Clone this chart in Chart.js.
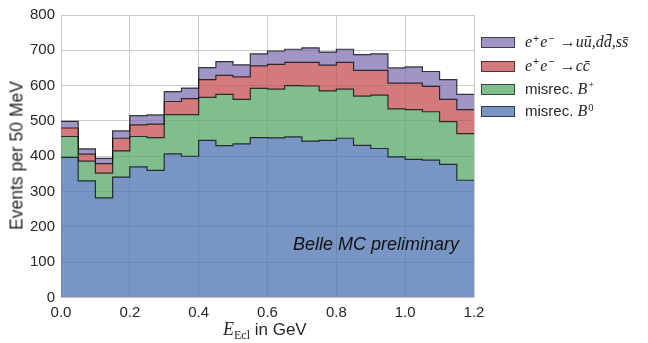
<!DOCTYPE html>
<html>
<head>
<meta charset="utf-8">
<script src="https://cdn.jsdelivr.net/npm/chart.js@4"></script>
<style>
  html, body { margin: 0; padding: 0; background: #fff; }
  #wrap { position: relative; width: 648px; height: 343px; overflow: hidden; }
  canvas { position: absolute; left: 0; top: 0; }
  .lbl { position: absolute; color: #262626; white-space: nowrap; font-family: "Liberation Sans", Arial, sans-serif; }
  .m { font-family: "Liberation Serif", "DejaVu Serif", serif; font-style: italic; }
  .r { font-family: "Liberation Serif", "DejaVu Serif", serif; font-style: normal; }
  .leg { position: absolute; left: 481px; height: 23px; white-space: nowrap; color: #262626; }
  .patch { position: absolute; left: 0; top: 6px; width: 32px; height: 9px; border: 1px solid rgba(0,0,0,0.6); }
  .ltxt { position: absolute; left: 44px; top: 0px; line-height: 21px; font-size: 15px; font-family: "Liberation Sans", Arial, sans-serif; }
  sup { font-size: 70%; vertical-align: 0; position: relative; top: -0.5em; margin-left: 1px; margin-right: 1px; }
  sub { font-size: 70%; vertical-align: 0; position: relative; top: 0.3em; }
</style>
</head>
<body>
<div id="wrap">
  <canvas id="c" width="648" height="343"></canvas>
  <div class="lbl" style="left:-71px; top:145px; width:176px; text-align:center; font-size:17.5px; transform:rotate(-90deg);">Events per 50 MeV</div>
  <div class="lbl" style="left:223px; top:319px; font-size:17px;"><span class="m" style="font-size:18px">E</span><sub class="r" style="font-size:12px">Ecl</sub> in GeV</div>
  <div class="lbl" style="left:293px; top:234px; font-size:18px; font-style:italic; color:#111;">Belle MC preliminary</div>
  <div id="legend"></div>
</div>
<script>
// Bin edges in GeV (50 MeV bins)
const binEdges = [0.00,0.05,0.10,0.15,0.20,0.25,0.30,0.35,0.40,0.45,0.50,0.55,0.60,0.65,0.70,0.75,0.80,0.85,0.90,0.95,1.00,1.05,1.10,1.15,1.20];
// Events per bin for each component (stacked bottom to top)
const misrecB0   = [397,330,282,341,370,360,407,400,445,430,435,453,452,455,443,445,451,431,422,398,391,389,377,332];
const misrecBp   = [ 59, 56, 70, 74, 86, 93,111,118,122,145,126,139,138,145,156,140,139,139,151,136,141,137,121,132];
const eeCC       = [ 24, 20, 27, 36, 33, 38, 37, 45, 50, 54, 64, 64, 70, 66, 67, 73, 76, 73, 70, 73, 75, 72, 63, 68];
const eeUDS      = [ 19, 15, 15, 21, 26, 26, 28, 30, 34, 39, 34, 34, 38, 37, 41, 37, 37, 45, 47, 43, 46, 42, 56, 43];
const yTicks = [0,100,200,300,400,500,600,700,800];
const xTicks = [0.0,0.2,0.4,0.6,0.8,1.0,1.2];

const series = [
  { label: 'misrec. B0', values: misrecB0, color: 'rgba(76,114,176,0.75)' },
  { label: 'misrec. B+', values: misrecBp, color: 'rgba(85,168,104,0.75)' },
  { label: 'ee->cc',     values: eeCC,     color: 'rgba(196,78,82,0.75)' },
  { label: 'ee->uds',    values: eeUDS,    color: 'rgba(129,114,178,0.75)' }
];

function toSteps(vals) {
  return binEdges.map((x, i) => ({ x: x, y: vals[Math.min(i, vals.length - 1)] }));
}

const datasets = series.map((s, i) => ({
  label: s.label,
  data: toSteps(s.values),
  stepped: true,
  backgroundColor: s.color,
  borderColor: 'rgba(0,0,0,0.75)',
  borderWidth: 1.2,
  pointRadius: 0,
  fill: i === 0 ? 'origin' : '-1',
  tension: 0
}));

new Chart(document.getElementById('c'), {
  type: 'line',
  data: { datasets },
  options: {
    responsive: false,
    animation: false,
    events: [],
    layout: { padding: { left: 0, right: 174, top: 15, bottom: 0 } },
    plugins: { legend: { display: false }, tooltip: { enabled: false } },
    scales: {
      x: {
        type: 'linear', min: 0, max: 1.2,
        afterBuildTicks: (s) => { s.ticks = xTicks.map(v => ({ value: v })); },
        afterFit: (s) => { s.height = 45.5; },
        ticks: { padding: 6, color: '#262626', font: { family: 'Liberation Sans, Arial', size: 15 },
                 callback: (v) => Number(v).toFixed(1), maxRotation: 0 },
        grid: { color: '#cccccc', lineWidth: 1, drawTicks: false },
        border: { color: '#cccccc' }
      },
      y: {
        type: 'linear', min: 0, max: 800, stacked: true,
        afterBuildTicks: (s) => { s.ticks = yTicks.map(v => ({ value: v })); },
        afterFit: (s) => { s.width = 61; },
        ticks: { padding: 6, color: '#262626', font: { family: 'Liberation Sans, Arial', size: 15 } },
        grid: { color: '#cccccc', lineWidth: 1, drawTicks: false },
        border: { color: '#cccccc' }
      }
    }
  }
});

// Legend (top to bottom matches reference order)
const legendItems = [
  { color: series[3].color, html: '<span class="m" style="font-size:16px">e</span><sup>+</sup><span class="m" style="font-size:16px">e</span><sup>\u2212</sup> <span class="r" style="font-size:16px">\u2192</span><span class="m" style="font-size:16px">u\u016B,d\u0064\u0304,s\u0073\u0304</span>' },
  { color: series[2].color, html: '<span class="m" style="font-size:16px">e</span><sup>+</sup><span class="m" style="font-size:16px">e</span><sup>\u2212</sup> <span class="r" style="font-size:16px">\u2192</span><span class="m" style="font-size:16px">c\u0063\u0304</span>' },
  { color: series[1].color, html: 'misrec. <span class="m" style="font-size:16px">B</span><sup class="r">+</sup>' },
  { color: series[0].color, html: 'misrec. <span class="m" style="font-size:16px">B</span><sup class="r">0</sup>' }
];
const legTops = [31, 54.5, 77.5, 100];
const leg = document.getElementById('legend');
legendItems.forEach((it, i) => {
  const d = document.createElement('div');
  d.className = 'leg';
  d.style.top = legTops[i] + 'px';
  d.innerHTML = '<div class="patch" style="background:' + it.color + '"></div><div class="ltxt">' + it.html + '</div>';
  leg.appendChild(d);
});
</script>
</body>
</html>
